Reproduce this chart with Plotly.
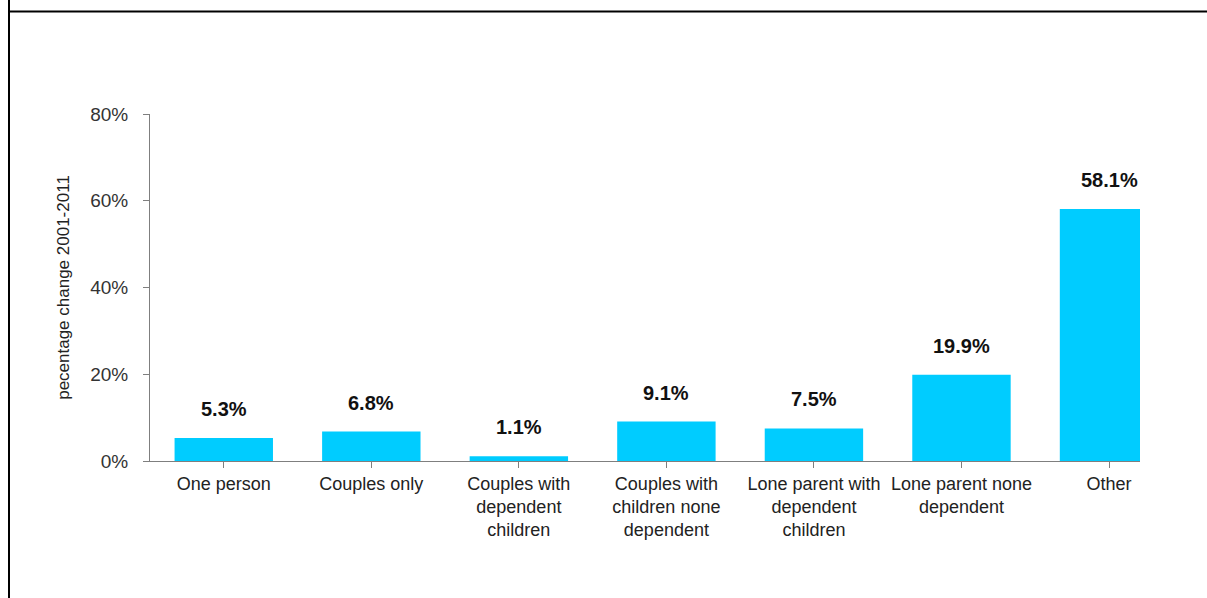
import plotly.graph_objects as go

# Household types and their percentage change 2001-2011
categories = [
    "One person",
    "Couples only",
    "Couples with<br>dependent<br>children",
    "Couples with<br>children none<br>dependent",
    "Lone parent with<br>dependent<br>children",
    "Lone parent none<br>dependent",
    "Other",
]
change_pct = [5.3, 6.8, 1.1, 9.1, 7.5, 19.9, 58.1]
value_labels = ["5.3%", "6.8%", "1.1%", "9.1%", "7.5%", "19.9%", "58.1%"]

y_ticks = [0, 20, 40, 60, 80]
y_tick_text = ["0%", "20%", "40%", "60%", "80%"]

W, H = 1207, 598
ML, MR, MT, MB = 150, 67, 114, 137
FONT = "Liberation Sans, Arial, sans-serif"
AXIS_GREY = "#7f7f7f"

fig = go.Figure()
fig.add_trace(go.Bar(
    x=list(range(len(categories))),
    y=change_pct,
    width=0.667,
    marker=dict(color="#00CCFF", line=dict(width=0)),
    hoverinfo="skip",
))

# value labels floating above each bar
for i, (v, t) in enumerate(zip(change_pct, value_labels)):
    fig.add_annotation(
        x=i, y=v, text=f"<b>{t}</b>", showarrow=False,
        yanchor="middle", yshift=29,
        font=dict(family=FONT, size=20, color="#111111"),
    )

pw = W - ML - MR
ph = H - MT - MB

def px_x(p):
    return (p - ML) / pw

def px_y(p):
    return (H - MB - p) / ph

# frame lines along the top and left edge of the page
fig.add_shape(type="line", xref="paper", yref="paper",
              x0=px_x(8), x1=px_x(W + 5), y0=px_y(11.5), y1=px_y(11.5),
              line=dict(color="black", width=2))
fig.add_shape(type="line", xref="paper", yref="paper",
              x0=px_x(9), x1=px_x(9), y0=px_y(-5), y1=px_y(H + 5),
              line=dict(color="black", width=2))

fig.update_layout(
    width=W, height=H,
    margin=dict(l=ML, r=MR, t=MT, b=MB, autoexpand=False),
    paper_bgcolor="white", plot_bgcolor="white",
    showlegend=False,
    font=dict(family=FONT, size=18, color="#222222"),
    xaxis=dict(
        range=[-0.5, 6.21],
        tickmode="array",
        tickvals=list(range(len(categories))),
        ticktext=categories,
        tickson="boundaries",
        ticks="outside", ticklen=6, tickcolor=AXIS_GREY, tickwidth=1,
        showline=True, linecolor=AXIS_GREY, linewidth=1,
        showgrid=False, zeroline=False,
        tickfont=dict(family=FONT, size=18, color="#222222"),
        fixedrange=True,
    ),
    yaxis=dict(
        range=[0, 80],
        tickmode="array",
        tickvals=y_ticks,
        ticktext=y_tick_text,
        ticks="outside", ticklen=6, tickcolor=AXIS_GREY, tickwidth=1,
        ticklabelstandoff=11,
        showline=True, linecolor=AXIS_GREY, linewidth=1,
        showgrid=False, zeroline=False,
        tickfont=dict(family=FONT, size=19, color="#333333"),
        title=dict(text="pecentage change 2001-2011",
                   font=dict(family=FONT, size=17, color="#222222"),
                   standoff=16),
        fixedrange=True,
    ),
)

fig.write_html("out.html", config={"displayModeBar": False})
